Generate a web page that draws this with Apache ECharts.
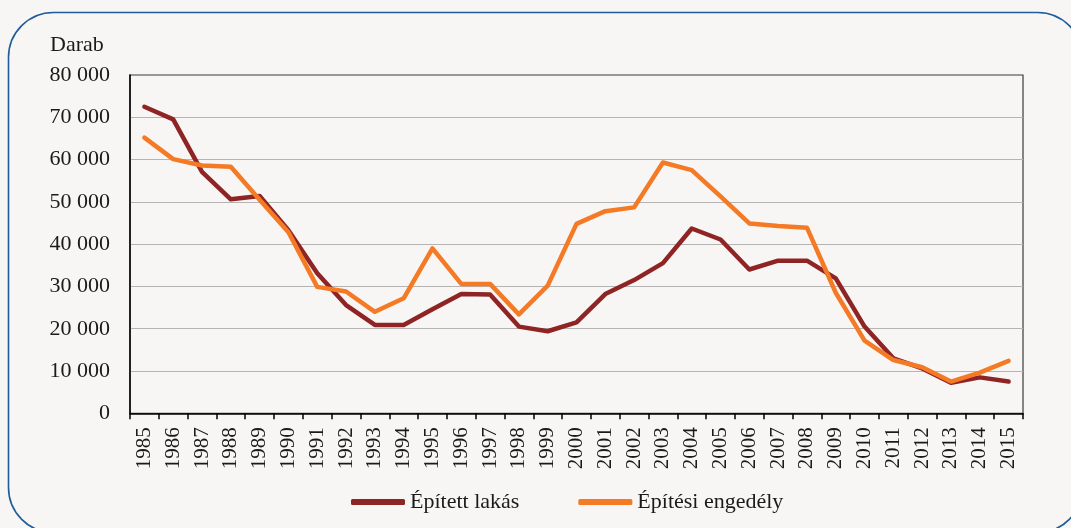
<!DOCTYPE html>
<html>
<head>
<meta charset="utf-8">
<script src="https://cdn.jsdelivr.net/npm/echarts@6/dist/echarts.min.js"></script>
<style>
html,body{margin:0;padding:0;background:#f7f6f4;}
#c{width:1071px;height:528px;}
</style>
</head>
<body>
<div id="c"></div>
<script>
var years = ['1985','1986','1987','1988','1989','1990','1991','1992','1993','1994','1995','1996','1997','1998','1999','2000','2001','2002','2003','2004','2005','2006','2007','2008','2009','2010','2011','2012','2013','2014','2015'];
var epitettLakas = [72500,69500,57100,50600,51400,43300,33100,25600,20900,20900,24600,28200,28100,20500,19400,21500,28200,31500,35500,43700,41100,34000,36100,36100,31900,20500,13000,10600,7200,8500,7500];
var epitesiEngedely = [65200,60100,58600,58300,50500,42800,29900,28800,24000,27200,39000,30600,30600,23400,30200,44800,47800,48700,59300,57500,51300,44900,44300,43900,28500,17200,12600,10900,7500,9600,12400];
var yTicks = {min:0, max:80000, interval:10000};
var seriesNames = ['Épített lakás','Építési engedély'];
var unitLabel = 'Darab';

var FONT = '"Liberation Serif", "DejaVu Serif", serif';
var chart = echarts.init(document.getElementById('c'), null, {renderer:'canvas'});
chart.setOption({
  backgroundColor:'#f7f6f4',
  animation:false,
  graphic:[
    {type:'rect', z:-10, silent:true, shape:{x:8.5,y:12.5,width:1074,height:520,r:45},
     style:{fill:'none', stroke:'#1f5c99', lineWidth:1.6}},
    {type:'text', left:50, top:34, style:{text:unitLabel, font:'22px '+FONT, fill:'#1a1a1a'}}
  ],
  grid:{left:130, right:48, top:75, bottom:114.7, show:true, borderColor:'#3a3a3a', borderWidth:1.2, backgroundColor:'transparent'},
  legend:{
    left:351, top:491, padding:0, itemWidth:54, itemHeight:6, itemGap:59, icon:'roundRect',
    textStyle:{fontFamily:FONT, fontSize:22, color:'#1a1a1a', padding:[0,0,0,0]},
    data:seriesNames
  },
  xAxis:{
    type:'category', data:years, boundaryGap:true,
    axisLine:{lineStyle:{color:'#000', width:1.5}},
    axisTick:{show:true, length:6, lineStyle:{color:'#000', width:1.5}, alignWithLabel:false, interval:0},
    axisLabel:{rotate:90, interval:0, margin:14, fontFamily:FONT, fontSize:21, color:'#1a1a1a'}
  },
  yAxis:{
    type:'value', min:yTicks.min, max:yTicks.max, interval:yTicks.interval,
    axisLine:{show:true, lineStyle:{color:'#000', width:1.5}},
    axisTick:{show:false},
    splitLine:{show:true, showMaxLine:false, showMinLine:false, lineStyle:{color:'#b4b4b4', width:1.2}},
    axisLabel:{margin:20, fontFamily:FONT, fontSize:22, color:'#1a1a1a',
      formatter:function(v){return String(v).replace(/\B(?=(\d{3})+(?!\d))/g,' ');}}
  },
  series:[
    {name:seriesNames[0], type:'line', data:epitettLakas, symbol:'none', smooth:false,
     itemStyle:{color:'#8e2424'}, lineStyle:{color:'#8e2424', width:4.5, cap:'round', join:'round'}},
    {name:seriesNames[1], type:'line', data:epitesiEngedely, symbol:'none', smooth:false,
     itemStyle:{color:'#f47a25'}, lineStyle:{color:'#f47a25', width:4.5, cap:'round', join:'round'}}
  ]
});
</script>
</body>
</html>
